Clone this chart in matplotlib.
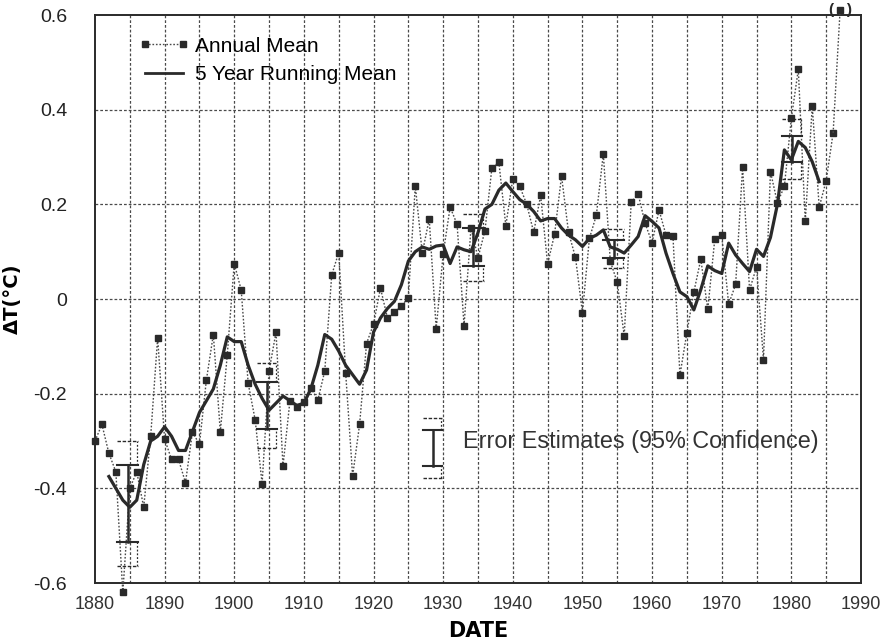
import numpy as np
import matplotlib
matplotlib.use("Agg")
import matplotlib.pyplot as plt
from matplotlib.lines import Line2D

# Global surface air temperature change, annual and 5 year running mean
annual_years = np.arange(1880, 1987)
annual_mean = [
    -0.30, -0.265, -0.326, -0.365, -0.62, -0.40, -0.365, -0.44, -0.29, -0.082,   # 1880s
    -0.296, -0.339, -0.339, -0.388, -0.281, -0.307, -0.171, -0.075, -0.281, -0.118,  # 1890s
    0.075, 0.019, -0.178, -0.255, -0.39, -0.152, -0.07, -0.353, -0.215, -0.228,   # 1900s
    -0.217, -0.187, -0.214, -0.152, 0.051, 0.098, -0.156, -0.374, -0.265, -0.094,  # 1910s
    -0.053, 0.023, -0.04, -0.028, -0.015, 0.003, 0.239, 0.097, 0.169, -0.063,     # 1920s
    0.095, 0.194, 0.158, -0.056, 0.151, 0.087, 0.144, 0.277, 0.289, 0.155,        # 1930s
    0.254, 0.238, 0.20, 0.141, 0.219, 0.074, 0.137, 0.26, 0.141, 0.088,           # 1940s
    -0.029, 0.128, 0.177, 0.307, 0.08, 0.035, -0.078, 0.204, 0.222, 0.16,         # 1950s
    0.119, 0.188, 0.135, 0.133, -0.161, -0.071, 0.015, 0.084, -0.022, 0.126,      # 1960s
    0.135, -0.011, 0.031, 0.279, 0.019, 0.068, -0.128, 0.269, 0.203, 0.238,       # 1970s
    0.382, 0.485, 0.164, 0.408, 0.194, 0.25, 0.351,                               # 1980-86
]
# partial-year value shown in parentheses
extra_year = 1987
extra_value = 0.61

running_years = np.arange(1882, 1985)
running_mean = [
    -0.375, -0.40, -0.425, -0.44, -0.425, -0.35, -0.30, -0.29,                    # 1882-89
    -0.27, -0.29, -0.32, -0.32, -0.28, -0.24, -0.215, -0.19, -0.14, -0.08,        # 1890s
    -0.09, -0.09, -0.14, -0.18, -0.21, -0.235, -0.22, -0.205, -0.215, -0.225,     # 1900s
    -0.22, -0.19, -0.14, -0.075, -0.085, -0.11, -0.14, -0.16, -0.18, -0.15,       # 1910s
    -0.07, -0.04, -0.02, -0.005, 0.03, 0.08, 0.10, 0.11, 0.105, 0.112,            # 1920s
    0.114, 0.075, 0.11, 0.104, 0.10, 0.14, 0.19, 0.20, 0.23, 0.245,               # 1930s
    0.227, 0.21, 0.20, 0.185, 0.165, 0.17, 0.17, 0.15, 0.135, 0.125,              # 1940s
    0.111, 0.128, 0.135, 0.146, 0.11, 0.105, 0.097, 0.114, 0.132, 0.176,          # 1950s
    0.164, 0.15, 0.097, 0.054, 0.015, 0.005, -0.023, 0.02, 0.07, 0.06,            # 1960s
    0.054, 0.118, 0.093, 0.075, 0.058, 0.105, 0.09, 0.13, 0.20, 0.315,            # 1970s
    0.294, 0.333, 0.32, 0.29, 0.248,                                              # 1980-84
]

# error estimates (95% confidence): centre, inner (solid) and outer (dashed) half widths
err_years = [1884.7, 1904.7, 1934.3, 1954.5, 1980.1]
err_center = [-0.432, -0.225, 0.109, 0.106, 0.317]
err_inner = [0.081, 0.049, 0.04, 0.019, 0.028]
err_outer = [0.132, 0.09, 0.07, 0.041, 0.064]
# sample bar next to the error text
key_year, key_center, key_inner, key_outer = 1928.5, -0.315, 0.038, 0.064

ink = "#2a2a2a"
grid_ink = "#4a4a4a"
plt.rcParams["font.family"] = ["Liberation Sans", "DejaVu Sans"]

fig = plt.figure(figsize=(8.9, 6.42), dpi=100)
ax = fig.add_axes([0.1067, 0.0919, 0.8607, 0.8847])

ax.set_xlim(1880, 1990)
ax.set_ylim(-0.6, 0.6)

# grid
for yr in range(1885, 1990, 5):
    ax.axvline(yr, color=grid_ink, lw=0.9, ls=(0, (2.2, 1.6)), zorder=1)
for v in [-0.4, -0.2, 0.0, 0.2, 0.4]:
    ax.axhline(v, color=grid_ink, lw=0.9, ls=(0, (2.2, 1.6)), zorder=1)


def draw_err(x, c, hi, ho, cap=1.5):
    ax.plot([x, x], [c - hi, c + hi], color=ink, lw=1.8, zorder=4)
    ax.plot([x + cap * 0.9, x + cap * 0.9], [c - ho, c - hi], color=ink, lw=0.9, ls=(0, (1.5, 1.5)), zorder=4)
    ax.plot([x + cap * 0.9, x + cap * 0.9], [c + hi, c + ho], color=ink, lw=0.9, ls=(0, (1.5, 1.5)), zorder=4)
    for y in (c - hi, c + hi):
        ax.plot([x - cap, x + cap], [y, y], color=ink, lw=1.5, zorder=4)
    for y in (c - ho, c + ho):
        ax.plot([x - cap, x + cap], [y, y], color=ink, lw=1.0, ls=(0, (2.5, 1.2)), zorder=4)


for x, c, hi, ho in zip(err_years, err_center, err_inner, err_outer):
    draw_err(x, c, hi, ho)
draw_err(key_year, key_center, key_inner, key_outer, cap=1.4)

# annual means (dotted with square markers)
ax.plot(annual_years, annual_mean, color=grid_ink, lw=1.0, ls=(0, (1.2, 1.3)),
        marker="s", ms=5, mfc=ink, mec=ink, zorder=3, clip_on=False)
ax.plot([annual_years[-1], extra_year], [annual_mean[-1], extra_value], color=grid_ink,
        lw=1.0, ls=(0, (1.2, 1.3)), zorder=3, clip_on=False)
ax.plot([extra_year], [extra_value], marker="s", ms=5, color=ink, zorder=3, clip_on=False)
ax.text(extra_year, extra_value, "(   )", ha="center", va="center", fontsize=11,
        fontweight="bold", color=ink, clip_on=False)

# 5 year running mean
ax.plot(running_years, running_mean, color=ink, lw=2.3, zorder=5, solid_joinstyle="round")

ax.text(1932.8, -0.30, "Error Estimates (95% Confidence)", fontsize=16.8, color="#333333",
        ha="left", va="center")

handles = [
    Line2D([], [], color=grid_ink, lw=1.0, ls=(0, (1.2, 1.3)), marker="s", ms=5,
           mfc=ink, mec=ink),
    Line2D([], [], color=ink, lw=2.0),
]
ax.legend(handles, ["Annual Mean", "5 Year Running Mean"], loc="upper left",
          bbox_to_anchor=(0.033, 0.995), frameon=False, numpoints=2,
          handlelength=2.4, handletextpad=0.3, labelspacing=0.45,
          prop={"family": "Liberation Sans", "size": 15})

ax.set_xticks(range(1880, 1991, 10))
ax.set_xticklabels([str(y) for y in range(1880, 1991, 10)])
ax.set_yticks([-0.6, -0.4, -0.2, 0.0, 0.2, 0.4, 0.6])
ax.set_yticklabels(["-0.6", "-0.4", "-0.2", "0", "0.2", "0.4", "0.6"])
ax.tick_params(axis="x", length=0, pad=9, labelsize=13, labelcolor="#333333")
ax.tick_params(axis="y", length=0, pad=20, labelsize=14, labelcolor="#222222")
for s in ax.spines.values():
    s.set_color(ink)
    s.set_linewidth(1.4)

ax.set_xlabel("DATE", fontsize=15, fontweight="bold", family="DejaVu Sans", labelpad=6)
ax.set_ylabel("ΔT(°C)", fontsize=14, fontweight="bold", family="DejaVu Sans", labelpad=8)

fig.savefig("out.png", dpi=100)
